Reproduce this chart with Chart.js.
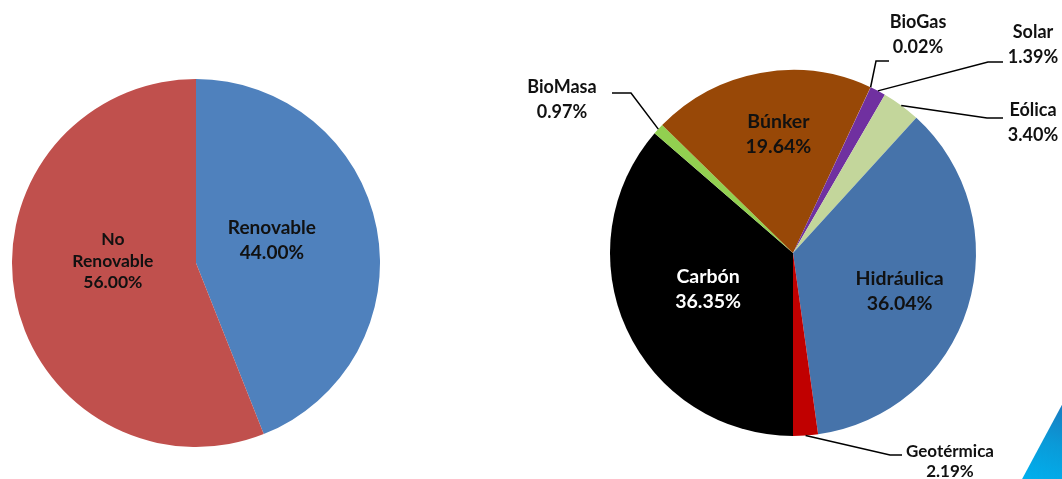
<!DOCTYPE html>
<html>
<head>
<meta charset="utf-8">
<script src="https://cdn.jsdelivr.net/npm/chart.js@4/dist/chart.umd.min.js"></script>
<style>
  html,body{margin:0;padding:0;background:#fff;}
  body{width:1062px;height:479px;position:relative;overflow:hidden;}
  #c1{position:absolute;left:0;top:0;}
  #c2{position:absolute;left:520px;top:0;}
  #deco{position:absolute;left:1020px;top:400px;width:42px;height:79px;
    background:linear-gradient(200deg,#1a78bd 0%,#0a9ad8 50%,#00b0ee 100%);
    clip-path:polygon(100% 6%,100% 100%,5% 100%);}
</style>
</head>
<body>
<canvas id="c1" width="400" height="479"></canvas>
<canvas id="c2" width="542" height="479"></canvas>
<div id="deco"></div>
<script>
// ---- data ----
const leftLabels = ['Renovable', 'No Renovable'];
const leftValues = [44.00, 56.00];
const leftColors = ['#4F81BD', '#C0504D'];

const rightLabels = ['Carbón', 'BioMasa', 'Búnker', 'BioGas', 'Solar', 'Eólica', 'Hidráulica', 'Geotérmica'];
const rightValues = [36.35, 0.97, 19.64, 0.02, 1.39, 3.40, 36.04, 2.19];
const rightColors = ['#000000', '#92D050', '#984807', '#F79646', '#7030A0', '#C3D69B', '#4673AA', '#C00000'];

const FONT = 'Lato, "Open Sans", sans-serif';

// label placement styles (per slice index)
const leftLabelStyle = [
  {mode:'in', frac:0.42, dx:0, dy:-8, size:19, lh:25, color:'#111', lines:['Renovable']},
  {mode:'in', frac:0.46, dx:0, dy:-18, size:17.5, lh:21.5, color:'#111', lines:['No','Renovable']}
];
const rightLabelStyle = [
  {mode:'in', frac:0.51, dx:0, dy:-3, size:19.5, lh:25, color:'#fff'},
  {mode:'out', elbow:[-162,-160], end:[-181,-160], text:[-231,-153.5], size:18, lh:25},
  {mode:'in', frac:0.66, dx:7, dy:0, size:19.5, lh:25, color:'#111'},
  {mode:'out', elbow:[83,-192], end:[96,-192], text:[125,-218.5], size:18, lh:25},
  {mode:'out', elbow:[195,-191], end:[210,-191], text:[240,-208.5], size:18, lh:25},
  {mode:'out', elbow:[194,-135], end:[210,-135], text:[240,-130], size:18, lh:25},
  {mode:'in', frac:0.61, dx:0, dy:5, size:19.5, lh:25, color:'#111'},
  {mode:'out', elbow:[97,202], end:[109,202], text:[157,209], size:17, lh:20}
];

function labelPlugin(styles, labels, values) {
  return {
    id: 'sliceLabels',
    afterDatasetsDraw(chart) {
      const ctx = chart.ctx;
      const meta = chart.getDatasetMeta(0);
      meta.data.forEach((arc, i) => {
        const p = arc.getProps(['x','y','startAngle','endAngle','outerRadius'], true);
        const st = styles[i];
        const mid = (p.startAngle + p.endAngle) / 2;
        const lines = (st.lines ? st.lines.slice() : [labels[i]]);
        lines.push(values[i].toFixed(2) + '%');
        let cx, cy;
        ctx.save();
        if (st.mode === 'in') {
          cx = p.x + Math.cos(mid) * p.outerRadius * st.frac + st.dx;
          cy = p.y + Math.sin(mid) * p.outerRadius * st.frac + st.dy;
          ctx.fillStyle = st.color;
        } else {
          const ex = p.x + Math.cos(mid) * p.outerRadius;
          const ey = p.y + Math.sin(mid) * p.outerRadius;
          ctx.strokeStyle = '#000';
          ctx.lineWidth = 1.5;
          ctx.beginPath();
          ctx.moveTo(ex, ey);
          ctx.lineTo(p.x + st.elbow[0], p.y + st.elbow[1]);
          ctx.lineTo(p.x + st.end[0], p.y + st.end[1]);
          ctx.stroke();
          cx = p.x + st.text[0];
          cy = p.y + st.text[1];
          ctx.fillStyle = '#111';
        }
        ctx.font = 'bold ' + st.size + 'px ' + FONT;
        ctx.textAlign = 'center';
        ctx.textBaseline = 'middle';
        const n = lines.length;
        lines.forEach((t, k) => {
          ctx.fillText(t, cx, cy + (k - (n - 1) / 2) * st.lh);
        });
        ctx.restore();
      });
    }
  };
}

function makePie(id, labels, values, colors, padding, rotation, styles) {
  return new Chart(document.getElementById(id), {
    type: 'pie',
    data: {
      labels: labels,
      datasets: [{
        data: values,
        backgroundColor: colors,
        borderWidth: 0
      }]
    },
    options: {
      responsive: false,
      animation: false,
      rotation: rotation,
      layout: {padding: padding},
      plugins: {legend: {display: false}, tooltip: {enabled: false}}
    },
    plugins: [labelPlugin(styles, labels, values)]
  });
}

makePie('c1', leftLabels, leftValues, leftColors,
  {left: 12, right: 20, top: 79, bottom: 32}, 0, leftLabelStyle);
makePie('c2', rightLabels, rightValues, rightColors,
  {left: 90, right: 86, top: 70, bottom: 43}, 180, rightLabelStyle);
</script>
</body>
</html>
